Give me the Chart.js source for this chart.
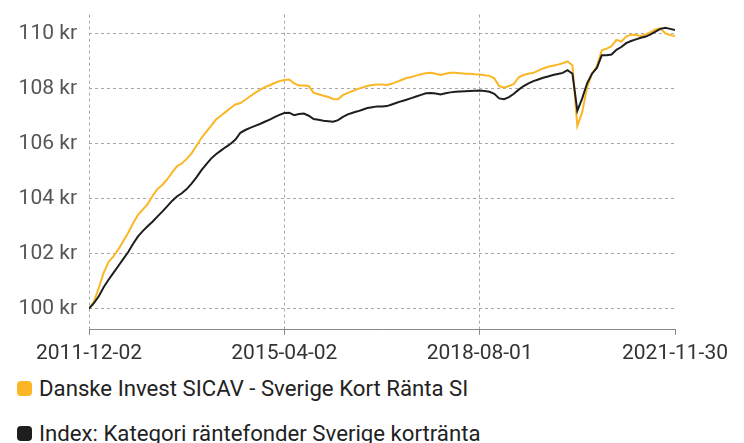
<!DOCTYPE html>
<html>
<head>
<meta charset="utf-8">
<script src="https://cdn.jsdelivr.net/npm/chart.js@4"></script>
<style>
  body { margin: 0; background: #fff; font-family: Roboto, sans-serif; overflow: hidden; }
  #wrap { position: relative; width: 744px; height: 382px; margin-top: -10px; }
  #legend { position: absolute; left: 17px; top: 373px; }
  .item { display: flex; align-items: center; height: 30px; margin-bottom: 15px; font-size: 22.2px; color: #222; }
  .box { width: 15px; height: 15px; border-radius: 4px; margin-right: 7px; flex: none; }
</style>
</head>
<body>
<div id="wrap"><canvas id="perfChart"></canvas></div>
<div id="legend"></div>
<script>
// months since 2011-12-02, one point per month
const months = [];
for (let i = 0; i <= 120; i++) months.push(i);

const tickMonths = [0, 40, 80, 120];
const tickLabels = ['2011-12-02', '2015-04-02', '2018-08-01', '2021-11-30'];
const yTicks = [100, 102, 104, 106, 108, 110];

const fundLabel = 'Danske Invest SICAV - Sverige Kort Ränta SI';
const indexLabel = 'Index: Kategori räntefonder Sverige kortränta';

const fundValues = [
  100.00, 100.25, 100.75, 101.30, 101.70, 101.90, 102.15, 102.45, 102.75, 103.10,
  103.40, 103.60, 103.80, 104.10, 104.35, 104.50, 104.70, 104.95, 105.18, 105.28,
  105.45, 105.65, 105.93, 106.20, 106.43, 106.65, 106.88, 107.02, 107.16, 107.30,
  107.43, 107.48, 107.60, 107.73, 107.85, 107.96, 108.06, 108.13, 108.21, 108.28,
  108.32, 108.34, 108.20, 108.12, 108.12, 108.10, 107.85, 107.80, 107.75, 107.70,
  107.63, 107.62, 107.77, 107.85, 107.92, 107.99, 108.05, 108.10, 108.14, 108.16,
  108.16, 108.14, 108.18, 108.25, 108.32, 108.39, 108.43, 108.48, 108.53, 108.57,
  108.58, 108.55, 108.50, 108.55, 108.58, 108.58, 108.57, 108.55, 108.55, 108.53,
  108.52, 108.49, 108.47, 108.38, 108.10, 108.04, 108.10, 108.18, 108.42, 108.50,
  108.55, 108.58, 108.66, 108.74, 108.80, 108.84, 108.88, 108.93, 109.00, 108.85,
  106.65, 107.15, 108.05, 108.55, 108.82, 109.40, 109.46, 109.55, 109.78, 109.72,
  109.90, 109.97, 109.96, 109.92, 109.98, 110.06, 110.16, 110.20, 110.02, 109.96,
  109.92
];

const indexValues = [
  100.00, 100.20, 100.45, 100.78, 101.05, 101.30, 101.55, 101.80, 102.05, 102.35,
  102.62, 102.82, 103.00, 103.16, 103.35, 103.53, 103.72, 103.92, 104.08, 104.20,
  104.35, 104.55, 104.78, 105.03, 105.25, 105.46, 105.62, 105.75, 105.88, 106.00,
  106.15, 106.40, 106.50, 106.58, 106.65, 106.72, 106.80, 106.88, 106.97, 107.05,
  107.12, 107.13, 107.04, 107.08, 107.10, 107.02, 106.90, 106.87, 106.84, 106.82,
  106.80, 106.86, 106.98, 107.07, 107.13, 107.18, 107.24, 107.30, 107.33, 107.36,
  107.36, 107.37, 107.43, 107.49, 107.55, 107.60, 107.66, 107.72, 107.78, 107.84,
  107.85, 107.83, 107.79, 107.84, 107.87, 107.89, 107.90, 107.91, 107.92, 107.93,
  107.94, 107.92, 107.89, 107.82, 107.65, 107.62, 107.70, 107.82, 107.97, 108.10,
  108.20, 108.28, 108.34, 108.40, 108.45, 108.50, 108.54, 108.58, 108.68, 108.55,
  107.20, 107.65, 108.20, 108.55, 108.76, 109.22, 109.22, 109.25, 109.42, 109.52,
  109.66, 109.74, 109.80, 109.86, 109.90, 109.98, 110.08, 110.18, 110.22, 110.18,
  110.14
];

const fundColor = '#fbb625';
const indexColor = '#1e1e1e';
const fontFamily = 'Roboto, sans-serif';

function toPoints(values) {
  return values.map((v, i) => ({ x: months[i], y: v }));
}

const ctx = document.getElementById('perfChart').getContext('2d');

const chart = new Chart(ctx, {
    type: 'line',
    data: {
        datasets: [{
            label: indexLabel,
            data: toPoints(indexValues),
            borderColor: indexColor,
            borderWidth: 2,
            pointRadius: 0,
            tension: 0
        }, {
            label: fundLabel,
            data: toPoints(fundValues),
            borderColor: fundColor,
            borderWidth: 2,
            pointRadius: 0,
            tension: 0
        }]
    },
    options: {
        responsive: true,
        maintainAspectRatio: false,
        animation: false,
        layout: { padding: { top: 2, right: 69, left: 0, bottom: 0 } },
        plugins: {
            legend: { display: false },
            tooltip: { enabled: false }
        },
        scales: {
            x: {
                type: 'linear',
                min: 0,
                max: 120,
                afterBuildTicks: scale => { scale.ticks = tickMonths.map(v => ({ value: v })); },
                ticks: {
                    autoSkip: false,
                    maxRotation: 0,
                    padding: 6,
                    color: '#333',
                    font: { family: fontFamily, size: 21 },
                    callback: value => tickLabels[tickMonths.indexOf(value)]
                },
                grid: {
                    color: ctx => ctx.index === tickMonths.length - 1 ? 'rgba(0,0,0,0)' : '#a8a8a8',
                    tickColor: '#888',
                    tickBorderDash: [],
                    tickLength: 5,
                    lineWidth: 1
                },
                border: { display: true, color: '#888', width: 1, dash: [3, 3] }
            },
            y: {
                min: 99.23,
                max: 110.7,
                afterBuildTicks: scale => { scale.ticks = yTicks.map(v => ({ value: v })); },
                afterFit: scale => { scale.width = 89; },
                ticks: {
                    padding: 12,
                    color: '#555',
                    font: { family: fontFamily, size: 21 },
                    callback: value => value + ' kr'
                },
                grid: {
                    color: '#a8a8a8',
                    drawTicks: false,
                    lineWidth: 1
                },
                border: { display: false, dash: [3, 3] }
            }
        }
    }
});

const legend = document.getElementById('legend');
[[fundLabel, fundColor], [indexLabel, indexColor]].forEach(([label, color]) => {
    const row = document.createElement('div');
    row.className = 'item';
    row.innerHTML = '<span class="box" style="background:' + color + '"></span><span>' + label + '</span>';
    legend.appendChild(row);
});
</script>
</body>
</html>
